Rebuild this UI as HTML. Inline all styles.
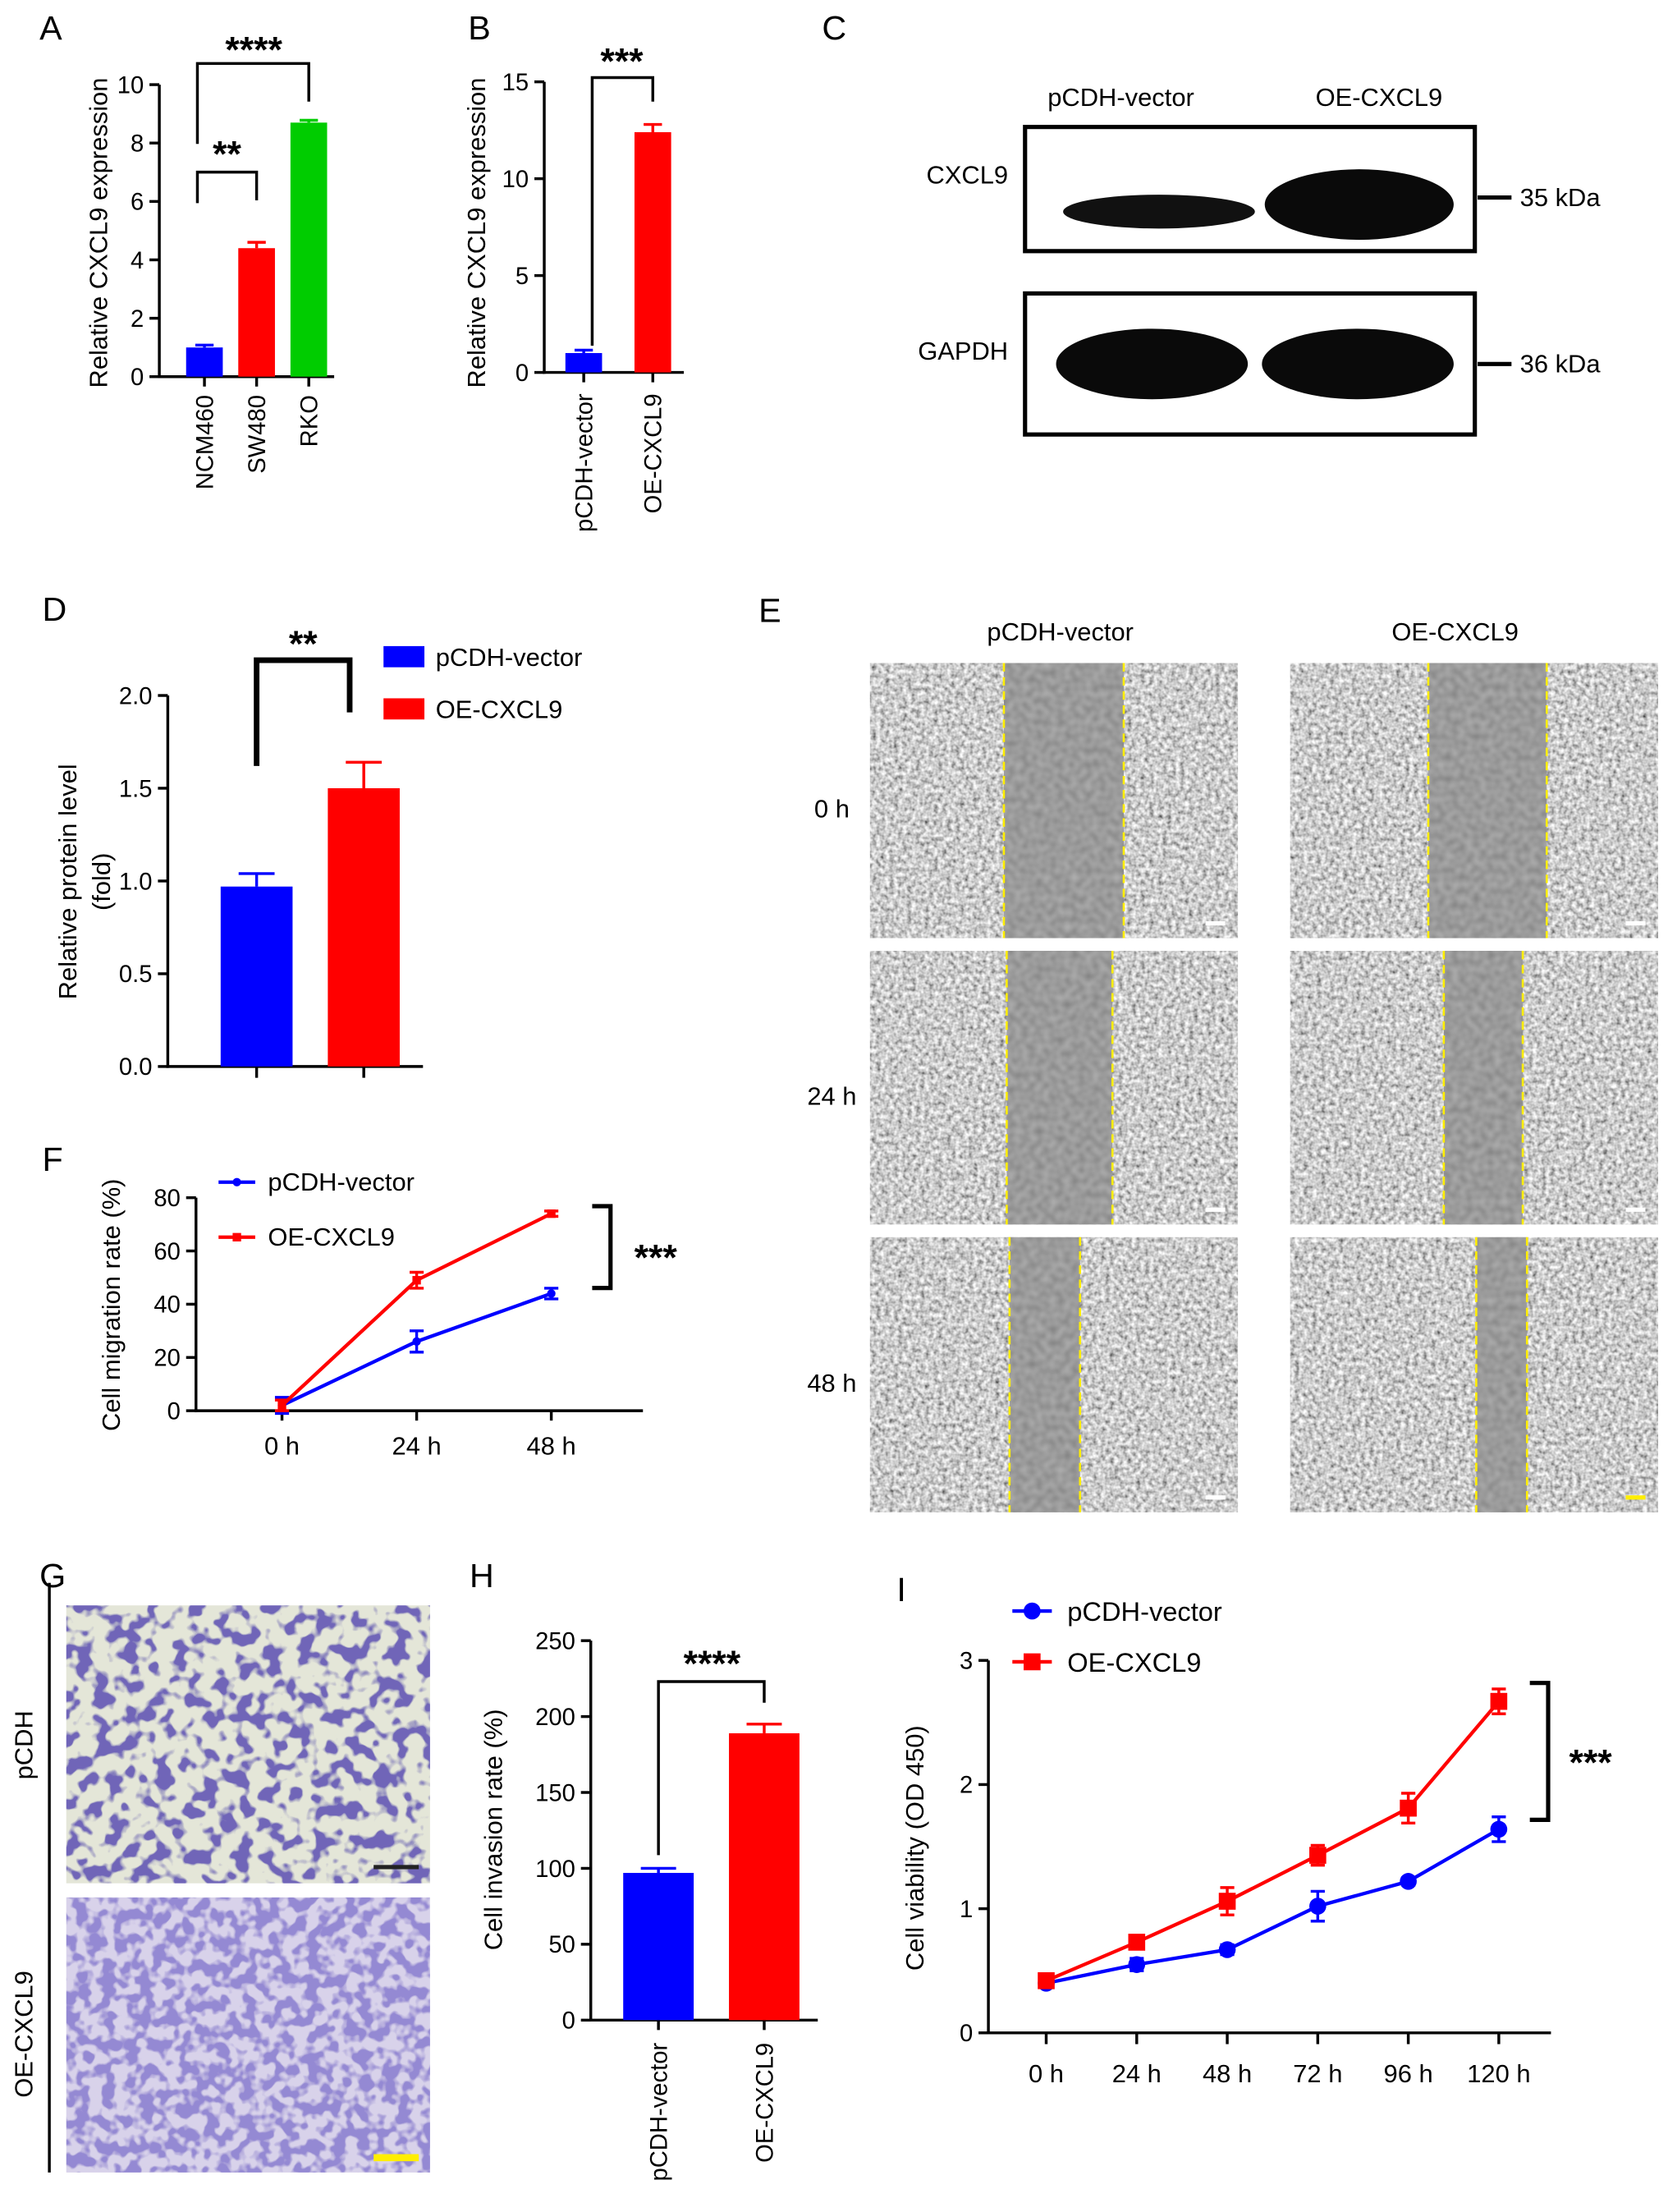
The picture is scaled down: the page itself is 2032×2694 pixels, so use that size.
<!DOCTYPE html>
<html><head><meta charset="utf-8">
<style>
html,body{margin:0;padding:0;background:#fff;}
svg{display:block;font-family:"Liberation Sans",Arial,sans-serif;}
</style></head>
<body>
<svg id="fig" width="2032" height="2694" viewBox="0 0 1183 1568" preserveAspectRatio="none" xmlns="http://www.w3.org/2000/svg">
<defs>
<filter id="cellsGray" x="0" y="0" width="100%" height="100%">
<feTurbulence type="fractalNoise" baseFrequency="0.32" numOctaves="2" seed="3" result="t"/>
<feColorMatrix in="t" type="matrix" values="1.3 0 0 0 -0.05  1.3 0 0 0 -0.05  1.3 0 0 0 -0.05  0 0 0 0 1" result="g"/>
<feComposite in="g" in2="SourceGraphic" operator="in"/>
</filter>
<filter id="gapGray" x="0" y="0" width="100%" height="100%">
<feTurbulence type="fractalNoise" baseFrequency="0.2" numOctaves="1" seed="7" result="t"/>
<feColorMatrix in="t" type="matrix" values="0.25 0 0 0 0.2  0.25 0 0 0 0.2  0.25 0 0 0 0.2  0 0 0 0 1" result="g"/>
<feComposite in="g" in2="SourceGraphic" operator="in"/>
</filter>
<filter id="purpleA" x="0" y="0" width="100%" height="100%">
<feTurbulence type="fractalNoise" baseFrequency="0.09" numOctaves="2" seed="11" result="t"/>
<feColorMatrix in="t" type="matrix" values="0 0 0 0 0.16  0 0 0 0 0.13  0 0 0 0 0.48  9 0 0 0 -4.4" result="c"/>
<feFlood flood-color="#e4e6d8" result="bg"/>
<feComposite in="c" in2="bg" operator="over" result="m"/>
<feComposite in="m" in2="SourceGraphic" operator="in"/>
</filter>
<filter id="purpleB" x="0" y="0" width="100%" height="100%">
<feTurbulence type="fractalNoise" baseFrequency="0.11" numOctaves="2" seed="5" result="t"/>
<feColorMatrix in="t" type="matrix" values="0 0 0 0 0.3  0 0 0 0 0.25  0 0 0 0 0.65  7 0 0 0 -3.0" result="c"/>
<feFlood flood-color="#d8d2ea" result="bg"/>
<feComposite in="c" in2="bg" operator="over" result="m"/>
<feComposite in="m" in2="SourceGraphic" operator="in"/>
</filter>
</defs>
<g id="root"></g>
</svg>
<script>
// Panel A
const aCats = ["NCM460","SW480","RKO"];
const aVals = [1.0, 4.4, 8.7];
const aErr = [0.08, 0.2, 0.08];
const aTicks = [0,2,4,6,8,10];
// Panel B
const bCats = ["pCDH-vector","OE-CXCL9"];
const bVals = [1.0, 12.4];
const bErr = [0.15, 0.4];
const bTicks = [0,5,10,15];
// Panel D
const dCats = ["pCDH-vector","OE-CXCL9"];
const dVals = [0.97, 1.5];
const dErr = [0.07, 0.14];
const dTicks = [0.0,0.5,1.0,1.5,2.0];
// Panel F
const fX = ["0 h","24 h","48 h"];
const fBlue = [2, 26, 44];
const fBlueErr = [3, 4, 2];
const fRed = [2, 49, 74];
const fRedErr = [2, 3, 1];
const fTicks = [0,20,40,60,80];
// Panel H
const hCats = ["pCDH-vector","OE-CXCL9"];
const hVals = [97, 189];
const hErr = [3, 6];
const hTicks = [0,50,100,150,200,250];
// Panel I
const iX = ["0 h","24 h","48 h","72 h","96 h","120 h"];
const iBlue = [0.40, 0.55, 0.67, 1.02, 1.22, 1.64];
const iBlueErr = [0.03, 0.05, 0.04, 0.12, 0.03, 0.1];
const iRed = [0.42, 0.73, 1.06, 1.43, 1.81, 2.67];
const iRedErr = [0.03, 0.03, 0.11, 0.08, 0.12, 0.1];
const iTicks = [0,1,2,3];

const NS="http://www.w3.org/2000/svg";
const root=document.getElementById('root');
function mk(tag,attrs,parent,txt){const e=document.createElementNS(NS,tag);for(const k in attrs)e.setAttribute(k,attrs[k]);if(txt!==undefined)e.textContent=txt;(parent||root).appendChild(e);return e;}
function lin(v,vmax,y0,y1){return y0-(v/vmax)*(y0-y1);}

function letter(t,x,y){const e=mk('text',{x:x,y:y,'font-size':24},root,t);

}

function yAxis(g,x,y0,y1,ticks,vmax,fmt,name){
 const ax=mk('line',{x1:x,y1:y0+1,x2:x,y2:y1,stroke:'#000','stroke-width':2},g);
 
 
 ticks.forEach(t=>{const y=lin(t,vmax,y0,y1);
  mk('line',{x1:x-7,y1:y,x2:x,y2:y,stroke:'#000','stroke-width':2},g);
  const tx=mk('text',{x:x-11,y:y+6,'font-size':17,'text-anchor':'end'},g,fmt(t));
  
  });
}
function yTitle(g,x,y,lines,name){
 lines.forEach((l,i)=>{const t=mk('text',{x:0,y:0,'font-size':18,'text-anchor':'middle',transform:`translate(${x+i*24},${y}) rotate(-90)`},g,l);
 
 });
}
function bars(g,cats,vals,err,xs,w,colors,y0,y1,vmax,name){
 cats.forEach((c,i)=>{const top=lin(vals[i],vmax,y0,y1);
  const r=mk('rect',{x:xs[i]-w/2,y:top,width:w,height:y0-top,fill:colors[i]},g);
  
  
  const ye=lin(vals[i]+err[i],vmax,y0,y1);
  mk('line',{x1:xs[i],y1:top,x2:xs[i],y2:ye,stroke:colors[i],'stroke-width':2},g);
  mk('line',{x1:xs[i]-w/4,y1:ye,x2:xs[i]+w/4,y2:ye,stroke:colors[i],'stroke-width':2},g);
 });
}
function rotLabels(g,cats,xs,y,name){
 cats.forEach((c,i)=>{const t=mk('text',{'font-size':17,'text-anchor':'end',transform:`translate(${xs[i]+6},${y}) rotate(-90)`},g,c);
 
 });
}
function bracket(g,pts,w){mk('polyline',{points:pts.map(p=>p.join(',')).join(' '),fill:'none',stroke:'#000','stroke-width':w||2},g);}
function stars(g,x,y,s,size,name){const t=mk('text',{x:x,y:y,'font-size':size||26,'font-weight':'bold','text-anchor':'middle'},g,s);
 
 }

// ---------- A ----------
letter('A',28,28);
const gA=mk('g',{});


const aX=[145,182,219];
yAxis(gA,113,267,60,aTicks,10,t=>t,'a');
mk('line',{x1:112,y1:267,x2:237,y2:267,stroke:'#000','stroke-width':2},gA);
aX.forEach(x=>mk('line',{x1:x,y1:267,x2:x,y2:274,stroke:'#000','stroke-width':2},gA));
bars(gA,aCats,aVals,aErr,aX,26,['#0000ff','#ff0000','#00cc00'],267,60,10,'a');
rotLabels(gA,aCats,aX,280,'a');
yTitle(gA,76,165,['Relative CXCL9 expression'],'a');
bracket(gA,[[140,144],[140,122],[182,122],[182,142]]);
stars(gA,161,118,'**',26,'a-significance-ncm-sw');
bracket(gA,[[140,102],[140,45],[219,45],[219,72]]);
stars(gA,180,44,'****',26,'a-significance-ncm-rko');

// ---------- B ----------
letter('B',332,28);
const gB=mk('g',{});


const bX=[414,463];
yAxis(gB,386,264,58,bTicks,15,t=>t,'b');
mk('line',{x1:385,y1:264,x2:485,y2:264,stroke:'#000','stroke-width':2},gB);
bX.forEach(x=>mk('line',{x1:x,y1:264,x2:x,y2:271,stroke:'#000','stroke-width':2},gB));
bars(gB,bCats,bVals,bErr,bX,26,['#0000ff','#ff0000'],264,58,15,'b');
rotLabels(gB,bCats,bX,279,'b');
yTitle(gB,344,165,['Relative CXCL9 expression'],'b');
bracket(gB,[[420,245],[420,55],[463,55],[463,72]]);
stars(gB,441,52,'***',26,'b-significance');

// ---------- C ----------
letter('C',583,28);
const gC=mk('g',{});


[['pCDH-vector',795],['OE-CXCL9',978]].forEach(([t,x])=>{const e=mk('text',{x:x,y:75,'font-size':18,'text-anchor':'middle'},gC,t);
 
 });
const box1=mk('rect',{x:727,y:90,width:319,height:88,fill:'#fff',stroke:'#000','stroke-width':3},gC);


const box2=mk('rect',{x:727,y:208,width:319,height:100,fill:'#fff',stroke:'#000','stroke-width':3},gC);


mk('ellipse',{cx:822,cy:150,rx:68,ry:12,fill:'#111'},gC);
mk('ellipse',{cx:964,cy:145,rx:67,ry:25,fill:'#0a0a0a'},gC);
mk('ellipse',{cx:817,cy:258,rx:68,ry:25,fill:'#0a0a0a'},gC);
mk('ellipse',{cx:963,cy:258,rx:68,ry:25,fill:'#0a0a0a'},gC);
[['CXCL9',686,130],['GAPDH',683,255]].forEach(([t,x,y])=>{const e=mk('text',{x:x,y:y,'font-size':18,'text-anchor':'middle'},gC,t);
 
 });
[[140,'35 kDa'],[258,'36 kDa']].forEach(([y,t])=>{mk('line',{x1:1048,y1:y,x2:1072,y2:y,stroke:'#000','stroke-width':3},gC);
 const e=mk('text',{x:1078,y:y+6,'font-size':18},gC,t);
 
 });

// ---------- D ----------
letter('D',30,440);
const gD=mk('g',{});


const dX=[182,258];
yAxis(gD,119,756,493,dTicks,2,t=>t.toFixed(1),'d');
mk('line',{x1:118,y1:756,x2:300,y2:756,stroke:'#000','stroke-width':2},gD);
dX.forEach(x=>mk('line',{x1:x,y1:756,x2:x,y2:764,stroke:'#000','stroke-width':2},gD));
bars(gD,dCats,dVals,dErr,dX,51,['#0000ff','#ff0000'],756,493,2,'d');
yTitle(gD,54,625,['Relative protein level','(fold)'],'d');
bracket(gD,[[182,543],[182,468],[248,468],[248,505]],4);
stars(gD,215,465,'**',26,'d-significance');
[['#0000ff',458,'pCDH-vector'],['#ff0000',495,'OE-CXCL9']].forEach(([c,y,t])=>{
 const r=mk('rect',{x:272,y:y,width:29,height:15,fill:c},gD);
 
 
 const e=mk('text',{x:309,y:y+14,'font-size':18},gD,t);
 
 });

// ---------- E ----------
letter('E',538,441);
const gE=mk('g',{});


[['pCDH-vector',752],['OE-CXCL9',1032]].forEach(([t,x])=>{const e=mk('text',{x:x,y:454,'font-size':18,'text-anchor':'middle'},gE,t);
 
 });
const eRows=[[470,195,'0 h'],[674,194,'24 h'],[877,195,'48 h']];
const eGaps=[[[712,797],[1013,1097]],[[714,789],[1024,1080]],[[716,766],[1047,1083]]];
const eCols=[617,915];
eRows.forEach(([y,h,lab],ri)=>{
 const t=mk('text',{x:590,y:y+h/2+12,'font-size':18,'text-anchor':'middle'},gE,lab);
 
 
 eCols.forEach((x,ci)=>{
  const im=mk('rect',{x:x,y:y,width:261,height:h,fill:'#fff',filter:'url(#cellsGray)'},gE);
  
  
  const [g0,g1]=eGaps[ri][ci];
  mk('rect',{x:g0,y:y,width:g1-g0,height:h,fill:'#fff',filter:'url(#gapGray)'},gE);
  [g0,g1].forEach(gx=>mk('line',{x1:gx,y1:y,x2:gx,y2:y+h,stroke:'#ffee00','stroke-width':1.5,'stroke-dasharray':'6,4'},gE));
  mk('rect',{x:x+238,y:y+h-12,width:14,height:3,fill:(ri==2&&ci==1)?'#ffee00':'#fff'},gE);
 });
});

// ---------- F ----------
letter('F',30,830);
const gF=mk('g',{});


const fXpos=(i)=>200+i*95.5;
yAxis(gF,139,1000,849,fTicks,80,t=>t,'f');
mk('line',{x1:138,y1:1000,x2:456,y2:1000,stroke:'#000','stroke-width':2},gF);
fX.forEach((l,i)=>{mk('line',{x1:fXpos(i),y1:1000,x2:fXpos(i),y2:1007,stroke:'#000','stroke-width':2},gF);
 const t=mk('text',{x:fXpos(i),y:1031,'font-size':18,'text-anchor':'middle'},gF,l);
 
 });
yTitle(gF,85,925,['Cell migration rate (%)'],'f');
function series(g,vals,errs,xpos,vmax,y0,y1,color,marker,msize,name){
 const pts=vals.map((v,i)=>[xpos(i),lin(v,vmax,y0,y1)]);
 const pl=mk('polyline',{points:pts.map(p=>p.join(',')).join(' '),fill:'none',stroke:color,'stroke-width':2.5},g);
 
 
 pts.forEach((p,i)=>{const ya=lin(vals[i]+errs[i],vmax,y0,y1),yb=lin(vals[i]-errs[i],vmax,y0,y1);
  mk('line',{x1:p[0],y1:ya,x2:p[0],y2:yb,stroke:color,'stroke-width':2},g);
  mk('line',{x1:p[0]-5,y1:ya,x2:p[0]+5,y2:ya,stroke:color,'stroke-width':2},g);
  mk('line',{x1:p[0]-5,y1:yb,x2:p[0]+5,y2:yb,stroke:color,'stroke-width':2},g);
  const m=marker=='c'?mk('circle',{cx:p[0],cy:p[1],r:msize,fill:color},g):mk('rect',{x:p[0]-msize,y:p[1]-msize,width:2*msize,height:2*msize,fill:color},g);
  
  });
}
series(gF,fBlue,fBlueErr,fXpos,80,1000,849,'#0000ff','c',3,'f-pcdh');
series(gF,fRed,fRedErr,fXpos,80,1000,849,'#ff0000','s',3,'f-oe');
[['#0000ff',838,'pCDH-vector','c'],['#ff0000',877,'OE-CXCL9','s']].forEach(([c,y,t,m])=>{
 mk('line',{x1:155,y1:y,x2:181,y2:y,stroke:c,'stroke-width':2.5},gF);
 if(m=='c')mk('circle',{cx:168,cy:y,r:3,fill:c},gF);else mk('rect',{x:165,y:y-3,width:6,height:6,fill:c},gF);
 const e=mk('text',{x:190,y:y+6,'font-size':18},gF,t);
 
 });
bracket(gF,[[420,855],[433,855],[433,913],[420,913]],3);
stars(gF,465,900,'***',26,'f-significance');

// ---------- G ----------
letter('G',28,1125);
const gG=mk('g',{});


mk('line',{x1:35,y1:1122,x2:35,y2:1540,stroke:'#000','stroke-width':2},gG);
const gi1=mk('rect',{x:47,y:1138,width:258,height:197,fill:'#fff',filter:'url(#purpleA)'},gG);


const gi2=mk('rect',{x:47,y:1345,width:258,height:195,fill:'#fff',filter:'url(#purpleB)'},gG);


mk('rect',{x:265,y:1322,width:32,height:3,fill:'#222'},gG);
mk('rect',{x:265,y:1527,width:32,height:5,fill:'#ffee00'},gG);
[['pCDH',1237],['OE-CXCL9',1442]].forEach(([t,y])=>{const e=mk('text',{'font-size':18,'text-anchor':'middle',transform:`translate(23,${y}) rotate(-90)`},gG,t);
 
 });

// ---------- H ----------
letter('H',333,1125);
const gH=mk('g',{});


const hX=[467,542];
yAxis(gH,419,1432,1163,hTicks,250,t=>t,'h');
mk('line',{x1:418,y1:1432,x2:580,y2:1432,stroke:'#000','stroke-width':2},gH);
hX.forEach(x=>mk('line',{x1:x,y1:1432,x2:x,y2:1439,stroke:'#000','stroke-width':2},gH));
bars(gH,hCats,hVals,hErr,hX,50,['#0000ff','#ff0000'],1432,1163,250,'h');
rotLabels(gH,hCats,hX,1448,'h');
yTitle(gH,356,1297,['Cell invasion rate (%)'],'h');
bracket(gH,[[467,1315],[467,1192],[542,1192],[542,1207]]);
stars(gH,505,1188,'****',26,'h-significance');

// ---------- I ----------
letter('I',636,1135);
const gI=mk('g',{});


const iXpos=(i)=>742+i*64.2;
yAxis(gI,701,1441,1177,iTicks,3,t=>t,'i');
mk('line',{x1:700,y1:1441,x2:1100,y2:1441,stroke:'#000','stroke-width':2},gI);
iX.forEach((l,i)=>{mk('line',{x1:iXpos(i),y1:1441,x2:iXpos(i),y2:1449,stroke:'#000','stroke-width':2},gI);
 const t=mk('text',{x:iXpos(i),y:1476,'font-size':18,'text-anchor':'middle'},gI,l);
 
 });
yTitle(gI,655,1310,['Cell viability (OD 450)'],'i');
series(gI,iBlue,iBlueErr,iXpos,3,1441,1177,'#0000ff','c',6,'i-pcdh');
series(gI,iRed,iRedErr,iXpos,3,1441,1177,'#ff0000','s',6,'i-oe');
[['#0000ff',1142,'pCDH-vector','c'],['#ff0000',1178,'OE-CXCL9','s']].forEach(([c,y,t,m])=>{
 mk('line',{x1:718,y1:y,x2:746,y2:y,stroke:c,'stroke-width':2.5},gI);
 if(m=='c')mk('circle',{cx:732,cy:y,r:6,fill:c},gI);else mk('rect',{x:726,y:y-6,width:12,height:12,fill:c},gI);
 const e=mk('text',{x:757,y:y+7,'font-size':19},gI,t);
 
 });
bracket(gI,[[1085,1193],[1098,1193],[1098,1290],[1085,1290]],3);
stars(gI,1128,1258,'***',26,'i-significance');
</script>
</body></html>
